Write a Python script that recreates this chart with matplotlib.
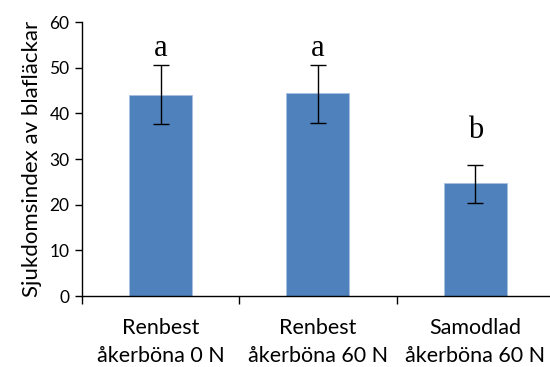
import matplotlib
matplotlib.use("Agg")
import matplotlib.pyplot as plt
import numpy as np

# data
categories = ["Renbest\nåkerböna 0 N", "Renbest\nåkerböna 60 N", "Samodlad\nåkerböna 60 N"]
means = [44.1, 44.5, 24.7]
err_low = [6.5, 6.6, 4.3]
err_high = [6.5, 6.1, 4.0]
letters = ["a", "a", "b"]
letter_y = [52.6, 52.6, 34.6]

plt.rcParams['font.family'] = ['Lato', 'DejaVu Sans']

fig = plt.figure(figsize=(5.5, 3.67), dpi=100)
ax = fig.add_axes([0.149, 0.193, 0.858, 0.747])

x = np.arange(len(categories))
ax.bar(x, means, width=0.4, color='#4F81BD', edgecolor='#A9C1E0', linewidth=0.6, zorder=2)
ax.errorbar(x, means, yerr=[err_low, err_high], fmt='none', ecolor='black',
            elinewidth=1, capsize=5.5, capthick=1, zorder=3)

# significance letters
for i in range(len(x)):
    ax.text(x[i], letter_y[i], letters[i], ha='center', va='baseline',
            fontsize=22, family='Liberation Serif')

ax.set_ylim(0, 60)
ax.set_yticks(np.arange(0, 61, 10))
ax.set_xlim(-0.5, 2.5)
ax.set_xticks([-0.5, 0.5, 1.5, 2.5])
ax.set_xticklabels([])
ax.set_xticks(x, minor=True)
ax.set_xticklabels(categories, minor=True, fontsize=15.5, linespacing=1.5)
ax.tick_params(axis='x', which='minor', length=0, pad=16)
ax.tick_params(axis='x', which='major', direction='out', length=6, width=1)
ax.tick_params(axis='y', direction='out', length=5, width=1, labelsize=12.5, pad=4)

ax.spines['top'].set_visible(False)
ax.spines['right'].set_visible(False)
ax.spines['left'].set_linewidth(1)
ax.spines['bottom'].set_linewidth(1)

ax.set_ylabel("Sjukdomsindex av blafläckar", fontsize=16, labelpad=5)

fig.savefig("out.png", dpi=100)
